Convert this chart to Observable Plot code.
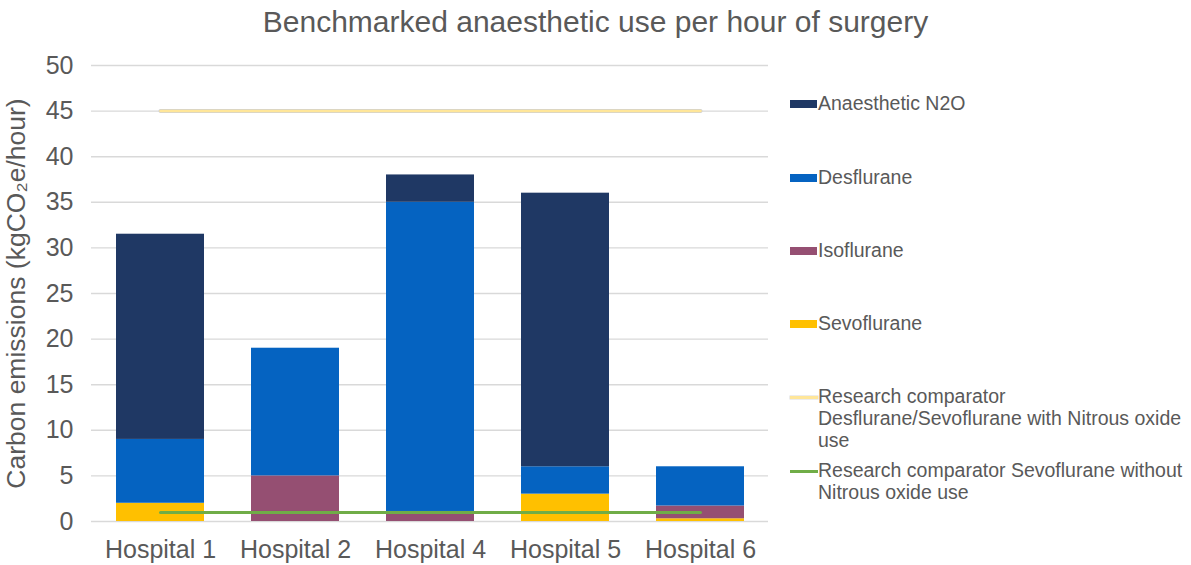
<!DOCTYPE html>
<html>
<head>
<meta charset="utf-8">
<script src="https://cdn.jsdelivr.net/npm/d3@7"></script>
<script src="https://cdn.jsdelivr.net/npm/@observablehq/plot@0.6"></script>
<style>
  body { margin: 0; background: #fff; }
  #wrap { position: relative; width: 1191px; height: 565px; font-family: "Liberation Sans", Arial, sans-serif; color: #595959; overflow: hidden; }
  #title { position: absolute; left: 0; top: 5px; width: 1191px; text-align: center; font-size: 30px; }
  #chart { position: absolute; left: 0; top: 50px; }
  #chart g[aria-label="y-axis label"] text { font-size: 26.5px; }
  #legend { position: absolute; left: 790px; top: 0; font-size: 19.5px; }
  .item { position: absolute; left: 0; white-space: nowrap; line-height: 22px; }
  .sw { position: absolute; left: 0; }
  .txt { position: absolute; left: 28px; top: 0; }
</style>
</head>
<body>
<div id="wrap">
  <div id="title">Benchmarked anaesthetic use per hour of surgery</div>
  <div id="chart"></div>
  <div id="legend"></div>
</div>
<script>
const hospitals = ["Hospital 1", "Hospital 2", "Hospital 4", "Hospital 5", "Hospital 6"];
const seriesNames = ["Sevoflurane", "Isoflurane", "Desflurane", "Anaesthetic N2O"];
const seriesColors = ["#FFC000", "#954F72", "#0563C1", "#1F3864"];
const sevoflurane = [2, 0, 0, 3, 0.3];
const isoflurane = [0, 5, 1.1, 0, 1.4];
const desflurane = [7, 14, 33.9, 3, 4.3];
const n2o = [22.5, 0, 3, 30, 0];
const comparatorWithN2O = 45;
const comparatorWithoutN2O = 1;
const lineColors = ["#FFE699", "#70AD47"];
const yTicks = [0, 5, 10, 15, 20, 25, 30, 35, 40, 45, 50];

const seriesValues = [sevoflurane, isoflurane, desflurane, n2o];
const rows = [];
seriesNames.forEach((s, si) => {
  hospitals.forEach((h, hi) => rows.push({hospital: h, series: s, value: seriesValues[si][hi]}));
});
const line1 = hospitals.map(h => ({hospital: h, value: comparatorWithN2O}));
const line2 = hospitals.map(h => ({hospital: h, value: comparatorWithoutN2O}));

const chart = Plot.plot({
  width: 1191,
  height: 515,
  marginTop: 15,
  marginBottom: 44,
  marginLeft: 91,
  marginRight: 423,
  style: {fontFamily: '"Liberation Sans", Arial, sans-serif', fontSize: "25px", color: "#595959", background: "white", overflow: "visible"},
  x: {domain: hospitals, paddingInner: 0.35, paddingOuter: 0.175, label: null, tickSize: 0, tickPadding: 19},
  y: {domain: [0, 50], ticks: yTicks, tickSize: 0, tickPadding: 18,
      label: "Carbon emissions (kgCO₂e/hour)", labelAnchor: "center", labelOffset: 85, labelArrow: "none"},
  color: {domain: seriesNames, range: seriesColors},
  marks: [
    Plot.ruleY(yTicks, {stroke: "#D9D9D9", strokeWidth: 1.4}),
    Plot.barY(rows, {x: "hospital", y: "value", fill: "series", order: seriesNames}),
    Plot.line(line1, {x: "hospital", y: "value", stroke: "#D0D0D0", strokeWidth: 4}),
    Plot.line(line1, {x: "hospital", y: "value", stroke: lineColors[0], strokeWidth: 2.5}),
    Plot.line(line2, {x: "hospital", y: "value", stroke: lineColors[1], strokeWidth: 3})
  ]
});
document.getElementById("chart").appendChild(chart);

// legend
const legend = document.getElementById("legend");
const entries = [
  {name: seriesNames[3], color: seriesColors[3], kind: "rect", top: 92},
  {name: seriesNames[2], color: seriesColors[2], kind: "rect", top: 166},
  {name: seriesNames[1], color: seriesColors[1], kind: "rect", top: 239},
  {name: seriesNames[0], color: seriesColors[0], kind: "rect", top: 312},
  {name: "Research comparator<br>Desflurane/Sevoflurane with Nitrous oxide<br>use", color: lineColors[0], kind: "line", top: 385},
  {name: "Research comparator Sevoflurane without<br>Nitrous oxide use", color: lineColors[1], kind: "line", top: 459}
];
entries.forEach(e => {
  const d = document.createElement("div");
  d.className = "item";
  d.style.top = e.top + "px";
  const sw = document.createElement("div");
  sw.className = "sw";
  if (e.kind === "rect") {
    sw.style.top = "8px"; sw.style.width = "27px"; sw.style.height = "8px"; sw.style.background = e.color;
  } else {
    sw.style.top = "11px"; sw.style.width = "28px"; sw.style.height = "3px"; sw.style.background = e.color;
    if (e.color === lineColors[0]) sw.style.boxShadow = "0 0 0 0.5px #D9D9D9";
  }
  const t = document.createElement("div");
  t.className = "txt";
  t.innerHTML = e.name;
  d.appendChild(sw); d.appendChild(t);
  legend.appendChild(d);
});
</script>
</body>
</html>
